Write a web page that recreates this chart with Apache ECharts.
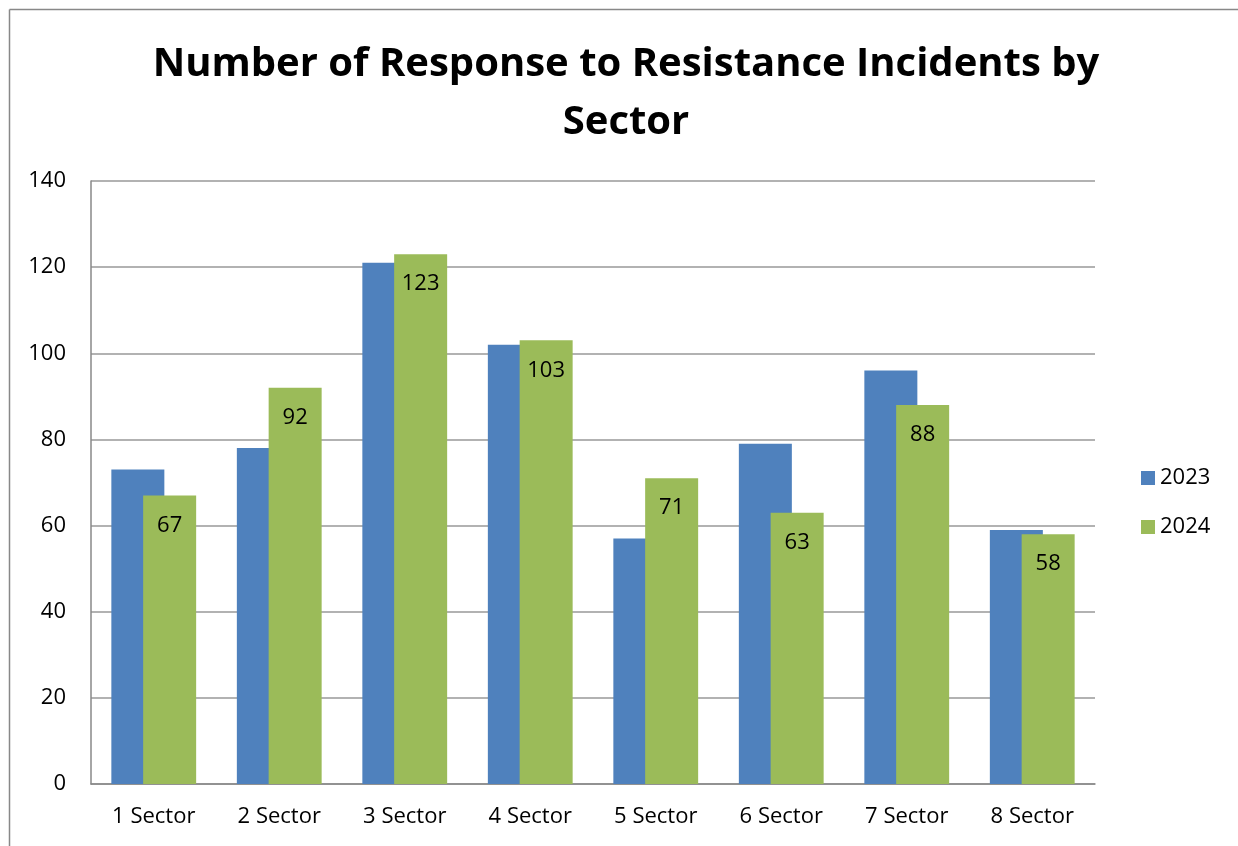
<!DOCTYPE html>
<html>
<head>
<meta charset="utf-8">
<script src="https://cdn.jsdelivr.net/npm/echarts@6/dist/echarts.min.js"></script>
<style>
  html, body { margin: 0; padding: 0; background: #fff; }
  #myChart { width: 1238px; height: 846px; }
</style>
</head>
<body>
<div id="myChart"></div>
<script>
// data
var sectors = ['1 Sector', '2 Sector', '3 Sector', '4 Sector', '5 Sector', '6 Sector', '7 Sector', '8 Sector'];
var values2023 = [73, 78, 121, 102, 57, 79, 96, 59];
var values2024 = [67, 92, 123, 103, 71, 63, 88, 58];
var yTicks = [0, 20, 40, 60, 80, 100, 120, 140];

var fontFam = '"Open Sans", "Liberation Sans", sans-serif';
var myChart = echarts.init(document.getElementById('myChart'));

myChart.setOption({
  color: ['#4f81bd', '#9bbb59'],
  backgroundColor: '#fff',
  animation: false,
  textStyle: { fontFamily: fontFam },
  title: {
    text: 'Number of Response to Resistance Incidents by\nSector',
    left: 621,
    textAlign: 'center',
    top: 31,
    textStyle: { fontSize: 40, fontWeight: 'bold', color: '#000', lineHeight: 58, fontFamily: fontFam }
  },
  legend: {
    orient: 'vertical',
    left: 1136,
    top: 462,
    itemWidth: 14,
    itemHeight: 14,
    itemGap: 27,
    icon: 'rect',
    textStyle: { fontSize: 22, color: '#000', fontFamily: fontFam },
    data: ['2023', '2024']
  },
  grid: { left: 91, right: 143, top: 181, bottom: 62, containLabel: false },
  // chart frame: only the left and top edges show in the reference
  graphic: [
    { type: 'line', shape: { x1: 9.5, y1: 9.5, x2: 1238, y2: 9.5 }, style: { stroke: '#888', lineWidth: 1.5 }, silent: true },
    { type: 'line', shape: { x1: 9.5, y1: 9.5, x2: 9.5, y2: 846 }, style: { stroke: '#888', lineWidth: 1.5 }, silent: true }
  ],
  xAxis: {
    type: 'category',
    data: sectors,
    axisLine: { lineStyle: { color: '#888', width: 1.5 } },
    axisTick: { show: false },
    axisLabel: { fontSize: 22, color: '#000', margin: 22, fontFamily: fontFam }
  },
  yAxis: {
    type: 'value',
    min: yTicks[0],
    max: yTicks[yTicks.length - 1],
    interval: 20,
    axisLine: { show: true, lineStyle: { color: '#888', width: 1.5 } },
    axisTick: { show: false },
    splitLine: { lineStyle: { color: '#999', width: 1.5 } },
    axisLabel: { fontSize: 22, color: '#000', margin: 25, fontFamily: fontFam }
  },
  series: [
    {
      name: '2023',
      type: 'bar',
      data: values2023,
      barWidth: 53,
      barGap: '-40%'
    },
    {
      name: '2024',
      type: 'bar',
      data: values2024,
      barWidth: 53,
      barGap: '-40%',
      label: {
        show: true,
        position: 'insideTop',
        distance: 19,
        fontSize: 22,
        color: '#000',
        fontFamily: fontFam
      }
    }
  ]
});
</script>
</body>
</html>
